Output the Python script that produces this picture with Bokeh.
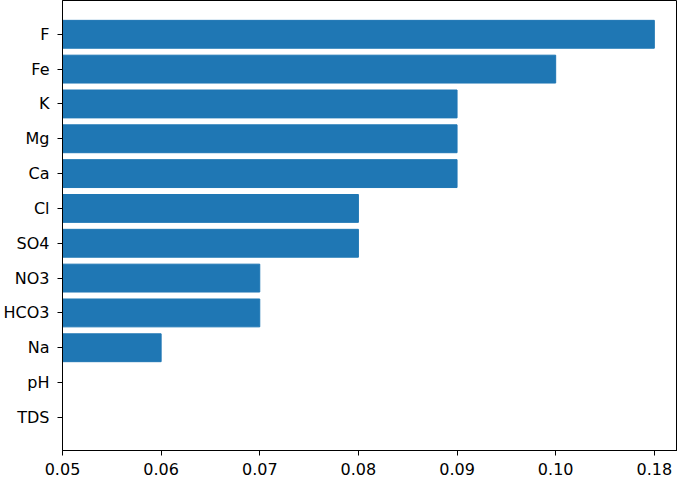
from bokeh.plotting import figure
from bokeh.models import Range1d, FixedTicker
from bokeh.embed import file_html
from bokeh.resources import INLINE

# Data (top to bottom as shown)
params = ["F", "Fe", "K", "Mg", "Ca", "Cl", "SO4", "NO3", "HCO3", "Na", "pH", "TDS"]
weights = [0.11, 0.10, 0.09, 0.09, 0.09, 0.08, 0.08, 0.07, 0.07, 0.06, 0.05, 0.05]
x_ticks = [0.05, 0.06, 0.07, 0.08, 0.09, 0.10, 0.11]
x_tick_labels = ["0.05", "0.06", "0.07", "0.08", "0.09", "0.10", "0.18"]

n = len(params)
ypos = [n - 1 - i for i in range(n)]

p = figure(
    frame_width=615, frame_height=450,
    output_backend="svg", toolbar_location=None,
    x_range=Range1d(0.05, 0.11235),
    y_range=Range1d(-0.95, n - 1 + 0.97),
    min_border_left=54, min_border_top=0, min_border_right=0, min_border_bottom=0,
)

p.hbar(y=ypos, left=0, right=weights, height=0.8,
       fill_color="#1f77b4", line_color="#1f77b4")

FONT = "DejaVu Sans"
p.xaxis.ticker = FixedTicker(ticks=x_ticks)
p.xaxis.major_label_overrides = {t: l for t, l in zip(x_ticks, x_tick_labels)}
p.yaxis.ticker = FixedTicker(ticks=ypos)
p.yaxis.major_label_overrides = {y: lab for y, lab in zip(ypos, params)}

for ax in (p.xaxis, p.yaxis):
    ax.major_label_text_font = FONT
    ax.major_label_text_font_size = "16px"
    ax.major_label_text_color = "black"
    ax.axis_line_color = "black"
    ax.major_tick_line_color = "black"
    ax.major_tick_out = 5
    ax.major_tick_in = 0
    ax.minor_tick_line_color = None
p.xaxis.major_label_standoff = 7
p.yaxis.major_label_standoff = 8

p.xgrid.grid_line_color = None
p.ygrid.grid_line_color = None
p.outline_line_color = "black"
p.outline_line_width = 1
p.outline_line_alpha = 1

open("out.html", "w").write(file_html(p, INLINE))
